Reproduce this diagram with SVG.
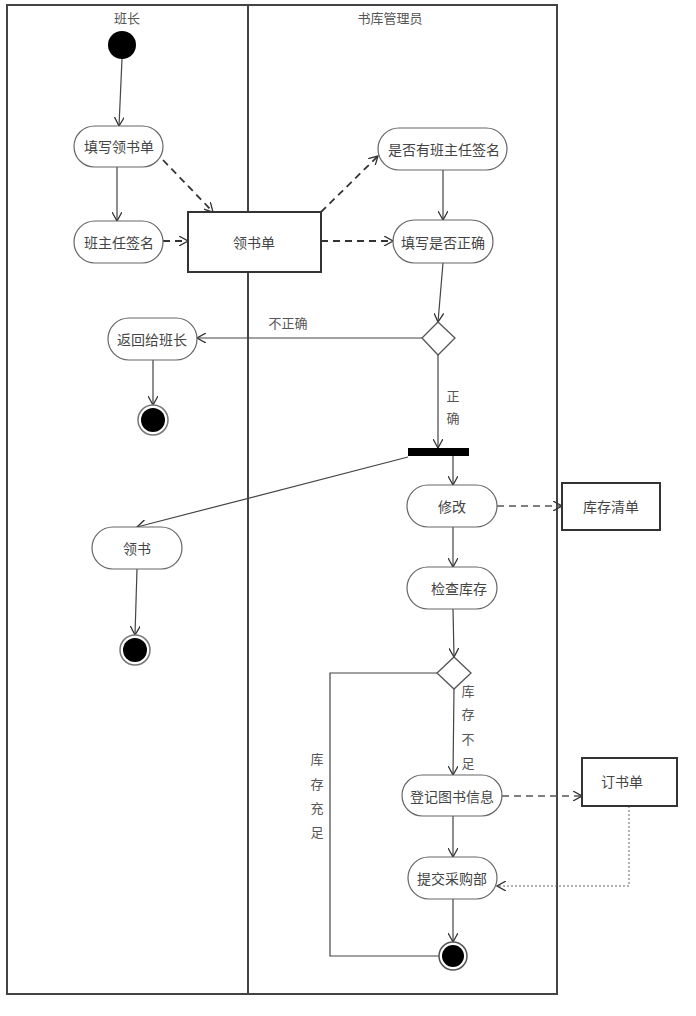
<svg xmlns="http://www.w3.org/2000/svg" width="696" height="1016" viewBox="0 0 696 1016">
<defs>
<style>
.frame{fill:none;stroke:#444;stroke-width:2}
.act{fill:#fff;stroke:#666;stroke-width:1.2}
.obj{fill:#fff;stroke:#333;stroke-width:2}
.t{font-family:"Noto Sans CJK SC","Noto Sans",sans-serif;font-size:14px;fill:#444;text-anchor:middle;dominant-baseline:central}
.lbl{font-family:"Noto Sans CJK SC","Noto Sans",sans-serif;font-size:13px;fill:#555;text-anchor:middle;dominant-baseline:central}
.flow{fill:none;stroke:#444;stroke-width:1.2;marker-end:url(#arr)}
.line{fill:none;stroke:#444;stroke-width:1.2}
.dash{fill:none;stroke:#333;stroke-width:1.8;stroke-dasharray:7,5;marker-end:url(#arr)}
.dashl{fill:none;stroke:#555;stroke-width:1.3;stroke-dasharray:7,5;marker-end:url(#arr)}
.dot{fill:none;stroke:#666;stroke-width:1;stroke-dasharray:2,2;marker-end:url(#arr)}
</style>
<marker id="arr" viewBox="0 0 10 10" refX="9" refY="5" markerWidth="10" markerHeight="10" markerUnits="userSpaceOnUse" orient="auto">
<path d="M0,0 L9,5 L0,10" fill="none" stroke="#333" stroke-width="1.3"/>
</marker>
</defs>
<rect width="696" height="1016" fill="#fff"/>
<g id="swimlanes">
<rect class="frame" x="7" y="5" width="550" height="989"/>
<line class="frame" x1="248" y1="5" x2="248" y2="994"/>
<text class="lbl" x="127" y="17">班长</text>
<text class="lbl" x="390" y="17">书库管理员</text>
</g>
<g id="connectors">
<line class="flow" x1="122" y1="59" x2="119" y2="126"/>
<line class="flow" x1="117" y1="167" x2="117" y2="221"/>
<line class="dash" x1="163" y1="160" x2="213" y2="212"/>
<line class="dash" x1="163" y1="241" x2="188" y2="241"/>
<line class="dash" x1="321" y1="212" x2="378" y2="156"/>
<line class="dash" x1="321" y1="241" x2="393" y2="241"/>
<line class="flow" x1="443" y1="170" x2="443" y2="220"/>
<line class="flow" x1="443" y1="263" x2="438" y2="322"/>
<line class="flow" x1="422" y1="338" x2="197" y2="338"/>
<line class="flow" x1="153" y1="360" x2="153" y2="405"/>
<line class="flow" x1="438" y1="355" x2="438" y2="448"/>
<line class="flow" x1="408" y1="457" x2="137" y2="527"/>
<line class="flow" x1="137" y1="569" x2="135" y2="635"/>
<line class="flow" x1="453" y1="456" x2="453" y2="485"/>
<line class="dashl" x1="497" y1="506" x2="562" y2="506"/>
<line class="flow" x1="453" y1="527" x2="453" y2="567"/>
<line class="flow" x1="453" y1="609" x2="454" y2="657"/>
<polyline class="line" points="437,673 330,673 330,956 439,956"/>
<line class="flow" x1="454" y1="689" x2="453" y2="775"/>
<line class="dashl" x1="502" y1="796" x2="582" y2="796"/>
<line class="flow" x1="453" y1="816" x2="453" y2="857"/>
<polyline class="dot" points="629,806 629,886 497,886"/>
<line class="flow" x1="453" y1="899" x2="453" y2="942"/>
<text class="lbl" x="288" y="322">不正确</text>
<text class="lbl" x="453" y="395">正</text>
<text class="lbl" x="453" y="417">确</text>
<text class="lbl" x="468" y="690">库</text>
<text class="lbl" x="468" y="713">存</text>
<text class="lbl" x="468" y="738">不</text>
<text class="lbl" x="468" y="762">足</text>
<text class="lbl" x="317" y="758">库</text>
<text class="lbl" x="317" y="783">存</text>
<text class="lbl" x="317" y="807">充</text>
<text class="lbl" x="317" y="831">足</text>
</g>
<g id="start"><circle cx="122" cy="45" r="14" fill="#000"/></g>
<g id="a1"><rect class="act" x="74" y="126" width="89" height="41" rx="20.5"/><text class="t" x="119" y="146">填写领书单</text></g>
<g id="a2"><rect class="act" x="74" y="221" width="89" height="42" rx="21"/><text class="t" x="119" y="242">班主任签名</text></g>
<g id="o1"><rect class="obj" x="188" y="212" width="133" height="60"/><text class="t" x="254" y="242">领书单</text></g>
<g id="a3"><rect class="act" x="378" y="128" width="129" height="42" rx="21"/><text class="t" x="444" y="149">是否有班主任签名</text></g>
<g id="a4"><rect class="act" x="393" y="220" width="100" height="43" rx="21.5"/><text class="t" x="443" y="242">填写是否正确</text></g>
<g id="d1"><polygon points="438,322 455,338 438,355 422,338" fill="#fff" stroke="#555" stroke-width="1.3"/></g>
<g id="a5"><rect class="act" x="108" y="318" width="89" height="42" rx="21"/><text class="t" x="152" y="339">返回给班长</text></g>
<g id="end1"><circle cx="153" cy="420" r="15" fill="#fff" stroke="#777" stroke-width="1.5"/><circle cx="153" cy="420" r="12" fill="#000"/></g>
<g id="fork"><rect x="408" y="448" width="61" height="8" fill="#000"/></g>
<g id="a6"><rect class="act" x="92" y="527" width="90" height="42" rx="21"/><text class="t" x="137" y="548">领书</text></g>
<g id="end2"><circle cx="135" cy="650" r="15" fill="#fff" stroke="#777" stroke-width="1.5"/><circle cx="135" cy="650" r="12" fill="#000"/></g>
<g id="a7"><rect class="act" x="407" y="485" width="90" height="42" rx="21"/><text class="t" x="452" y="506">修改</text></g>
<g id="o2"><rect class="obj" x="562" y="483" width="98" height="47"/><text class="t" x="611" y="506">库存清单</text></g>
<g id="a8"><rect class="act" x="407" y="567" width="90" height="42" rx="21"/><text class="t" x="459" y="588">检查库存</text></g>
<g id="d2"><polygon points="454,657 471,673 454,689 437,673" fill="#fff" stroke="#555" stroke-width="1.3"/></g>
<g id="a9"><rect class="act" x="402" y="775" width="100" height="41" rx="20.5"/><text class="t" x="452" y="796">登记图书信息</text></g>
<g id="o3"><rect class="obj" x="582" y="758" width="95" height="48"/><text class="t" x="622" y="781">订书单</text></g>
<g id="a10"><rect class="act" x="408" y="857" width="89" height="42" rx="21"/><text class="t" x="452" y="878">提交采购部</text></g>
<g id="end3"><circle cx="453" cy="956" r="14" fill="#fff" stroke="#555" stroke-width="1.5"/><circle cx="453" cy="956" r="11" fill="#000"/></g>
</svg>
